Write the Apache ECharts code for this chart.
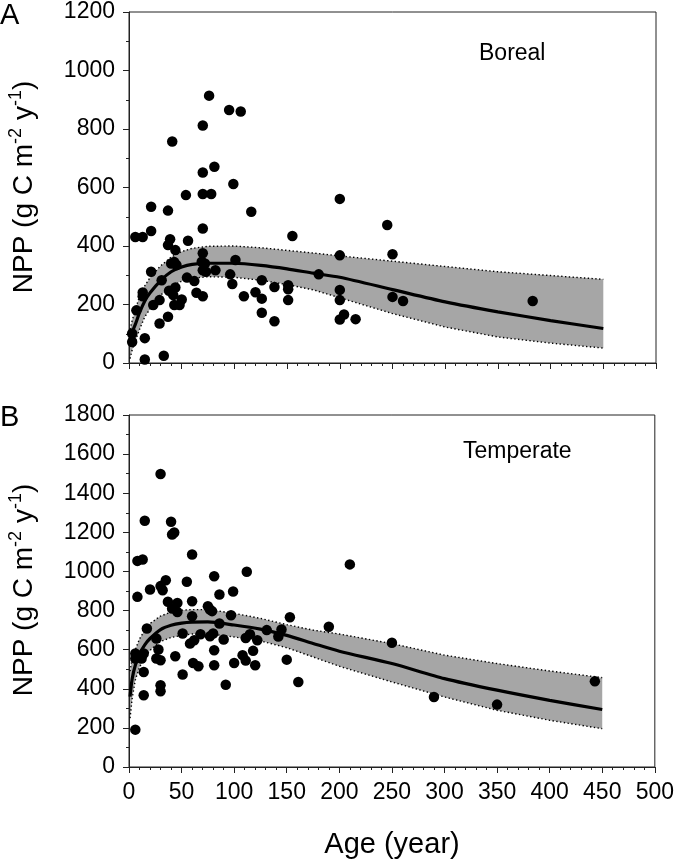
<!DOCTYPE html>
<html><head><meta charset="utf-8">
<script src="https://cdn.jsdelivr.net/npm/echarts@6/dist/echarts.min.js"></script>
<style>html,body{margin:0;padding:0;background:#fff}#c{width:677px;height:867px}</style>
</head><body><div id="c"></div>
<script>
// ---------- data ----------
const xTickValues = [0, 50, 100, 150, 200, 250, 300, 350, 400, 450, 500];
const borealYTicks = [0, 200, 400, 600, 800, 1000, 1200];
const temperateYTicks = [0, 200, 400, 600, 800, 1000, 1200, 1400, 1600, 1800];

// stand age (year) where fitted curve and 95% band are given
const fitAges = [1, 3, 6, 10, 15, 20, 30, 40, 50, 60, 75, 100, 125, 150, 175, 200, 250, 300, 350, 400, 450];

const borealFit   = [80, 105, 132, 172, 212, 240, 282, 312, 328, 337, 341, 341, 334, 322, 307, 293, 251, 209, 175, 145, 118];
const borealUpper = [115, 145, 182, 228, 264, 292, 332, 362, 381, 392, 399, 400, 394, 385, 376, 366, 348, 330, 312, 299, 286];
const borealLower = [15, 45, 75, 115, 158, 185, 232, 262, 280, 290, 295, 293, 283, 268, 250, 223, 169, 123, 89, 68, 51];

const temperateFit   = [360, 450, 520, 578, 625, 657, 703, 725, 736, 741, 742, 726, 705, 673, 632, 592, 529, 452, 393, 341, 294];
const temperateUpper = [490, 555, 600, 655, 700, 734, 772, 792, 802, 805, 805, 786, 760, 728, 700, 680, 631, 572, 529, 491, 457];
const temperateLower = [250, 350, 445, 510, 560, 597, 642, 662, 673, 680, 682, 665, 645, 610, 563, 515, 435, 358, 290, 239, 196];

// observed NPP points [age, NPP]
const borealPoints = [
  [3, 101], [3, 72], [7, 180], [6, 431], [13, 431], [13, 241], [13, 228], [15, 85], [15, 12],
  [21, 534], [21, 451], [21, 312], [23, 198], [29, 215], [29, 135], [31, 283], [33, 25],
  [37, 521], [37, 403], [39, 423], [41, 757], [44, 386], [37, 158], [40, 340], [45, 335], [43, 345],
  [38, 247], [44, 258], [42, 232], [50, 217], [43, 198], [48, 198], [54, 574], [56, 418],
  [55, 292], [62, 280], [64, 240], [70, 228], [69, 346], [72, 340], [70, 317], [73, 312], [70, 375],
  [70, 460], [70, 578], [70, 651], [70, 812], [76, 914], [78, 578], [81, 671], [82, 317],
  [95, 865], [106, 860], [99, 612], [101, 352], [96, 303], [98, 270], [109, 228], [116, 517],
  [120, 242], [126, 283], [126, 220], [126, 172], [138, 260], [138, 143], [151, 266], [151, 252],
  [151, 215], [155, 434], [180, 303], [200, 561], [200, 368], [200, 250], [200, 215], [200, 149],
  [204, 166], [215, 150], [245, 472], [250, 372], [250, 226], [260, 212], [383, 212]
];
const temperatePoints = [
  [30, 1498], [15, 1259], [40, 1254], [41, 1189], [43, 1199], [60, 1087], [8, 1054], [13, 1061],
  [210, 1036], [112, 998], [81, 975], [35, 955], [55, 947], [30, 925], [32, 904], [20, 908],
  [8, 870], [86, 882], [99, 897], [37, 845], [60, 848], [46, 839], [41, 810], [46, 793],
  [75, 822], [77, 805], [79, 797], [60, 771], [97, 776], [153, 766], [190, 717], [86, 734],
  [17, 708], [51, 683], [68, 679], [77, 668], [80, 683], [131, 700], [145, 703], [142, 667],
  [115, 679], [111, 660], [122, 648], [26, 657], [58, 631], [62, 648], [90, 652], [81, 597],
  [6, 580], [6, 555], [14, 580], [12, 555], [28, 601], [26, 555], [30, 546], [44, 566],
  [118, 594], [108, 572], [111, 544], [100, 532], [120, 520], [150, 549], [14, 486], [51, 473],
  [61, 532], [66, 515], [81, 520], [92, 421], [30, 418], [30, 387], [14, 367], [6, 191],
  [161, 435], [250, 635], [290, 358], [350, 319], [443, 438]
];

// ---------- chart ----------
const FONT = "'Liberation Sans', Arial, Helvetica, sans-serif";
const chart = echarts.init(document.getElementById('c'), null, {renderer: 'canvas'});

function pairs(xs, ys) { return xs.map((x, i) => [x, ys[i]]); }

function bandRender(lo, hi) {
  return function (params, api) {
    if (params.dataIndex !== 0) return null;
    const up = fitAges.map((a, i) => api.coord([a, hi[i]]));
    const dn = fitAges.map((a, i) => api.coord([a, lo[i]]));
    const poly = up.concat(dn.slice().reverse());
    const dotted = {stroke: '#000', lineWidth: 1.4, lineDash: [1.4, 2.4], fill: null};
    return {type: 'group', children: [
      {type: 'polygon', shape: {points: poly}, style: {fill: '#a6a6a6', stroke: null}},
      {type: 'polyline', shape: {points: up}, style: dotted},
      {type: 'polyline', shape: {points: dn}, style: Object.assign({}, dotted)}
    ]};
  };
}

function panelSeries(gi, lo, hi, fit, pts) {
  return [
    {type: 'custom', xAxisIndex: gi, yAxisIndex: gi, silent: true, animation: false, z: 1,
     data: fitAges.map((a, i) => [a, lo[i], hi[i]]), encode: {x: 0, y: [1, 2]},
     renderItem: bandRender(lo, hi)},
    {type: 'line', xAxisIndex: gi, yAxisIndex: gi, symbol: 'none', smooth: 0.25, silent: true, animation: false,
     data: pairs(fitAges, fit), lineStyle: {color: '#000', width: 3.2}, z: 3},
    {type: 'scatter', xAxisIndex: gi, yAxisIndex: gi, data: pts, symbolSize: 10.5,
     itemStyle: {color: '#000', opacity: 1}, silent: true, animation: false, z: 4}
  ];
}

function xAxis(gi, showLabels) {
  return {
    type: 'value', gridIndex: gi, min: xTickValues[0], max: xTickValues[xTickValues.length - 1],
    interval: xTickValues[1] - xTickValues[0],
    axisLine: {show: true, onZero: false, lineStyle: {color: '#222', width: 1}},
    axisTick: {show: true, length: 6, lineStyle: {color: '#222'}},
    minorTick: {show: true, splitNumber: 5, length: 3, lineStyle: {color: '#222'}},
    splitLine: {show: false},
    axisLabel: {show: showLabels, fontSize: 23, fontFamily: FONT, color: '#000', margin: 14,
      showMinLabel: true, showMaxLabel: true, formatter: v => String(v)}
  };
}
function yAxis(gi, ticks) {
  return {
    type: 'value', gridIndex: gi, min: ticks[0], max: ticks[ticks.length - 1],
    interval: ticks[1] - ticks[0],
    axisLine: {show: true, onZero: false, lineStyle: {color: '#222', width: 1}},
    axisTick: {show: true, length: 6, lineStyle: {color: '#222'}},
    minorTick: {show: true, splitNumber: 2, length: 3, lineStyle: {color: '#222'}},
    splitLine: {show: false},
    axisLabel: {fontSize: 23, fontFamily: FONT, color: '#000', margin: 14, showMinLabel: true, showMaxLabel: true,
      formatter: v => String(v)}
  };
}

const yTitleRich = {
  a: {fontSize: 28, fontFamily: FONT, color: '#000', lineHeight: 34},
  s: {fontSize: 18, fontFamily: FONT, color: '#000', lineHeight: 20, verticalAlign: 'top'}
};
const yTitleText = '{a|NPP (g C m}{s|-2}{a| y}{s|-1}{a|)}';

function label(text, x, y, size, align) {
  return {type: 'text', x, y, silent: true,
    style: {text, font: size + 'px ' + FONT, fill: '#000', align: align || 'left', textAlign: align || 'left',
      verticalAlign: 'middle', textVerticalAlign: 'middle'}};
}
function yTitle(x, y) {
  return {type: 'text', x, y, rotation: Math.PI / 2, silent: true,
    style: {text: yTitleText, rich: yTitleRich, font: '28px ' + FONT, fill: '#000',
      align: 'center', textAlign: 'center', verticalAlign: 'middle', textVerticalAlign: 'middle'}};
}

chart.setOption({
  animation: false,
  backgroundColor: '#fff',
  grid: [
    {left: 129, right: 21, top: 12, height: 351, show: true, borderColor: '#222', borderWidth: 1, containLabel: false},
    {left: 129, right: 21, top: 415, height: 352, show: true, borderColor: '#222', borderWidth: 1, containLabel: false}
  ],
  xAxis: [xAxis(0, false), xAxis(1, true)],
  yAxis: [yAxis(0, borealYTicks), yAxis(1, temperateYTicks)],
  series: [].concat(
    panelSeries(0, borealLower, borealUpper, borealFit, borealPoints),
    panelSeries(1, temperateLower, temperateUpper, temperateFit, temperatePoints)
  ),
  graphic: [
    label('A', 0, 16, 29),
    label('B', 0, 418, 29),
    label('Boreal', 479, 54, 23),
    label('Temperate', 463, 452, 23),
    label('Age (year)', 392, 845, 29, 'center'),
    yTitle(24, 187),
    yTitle(24, 590)
  ]
});
</script>
</body></html>
